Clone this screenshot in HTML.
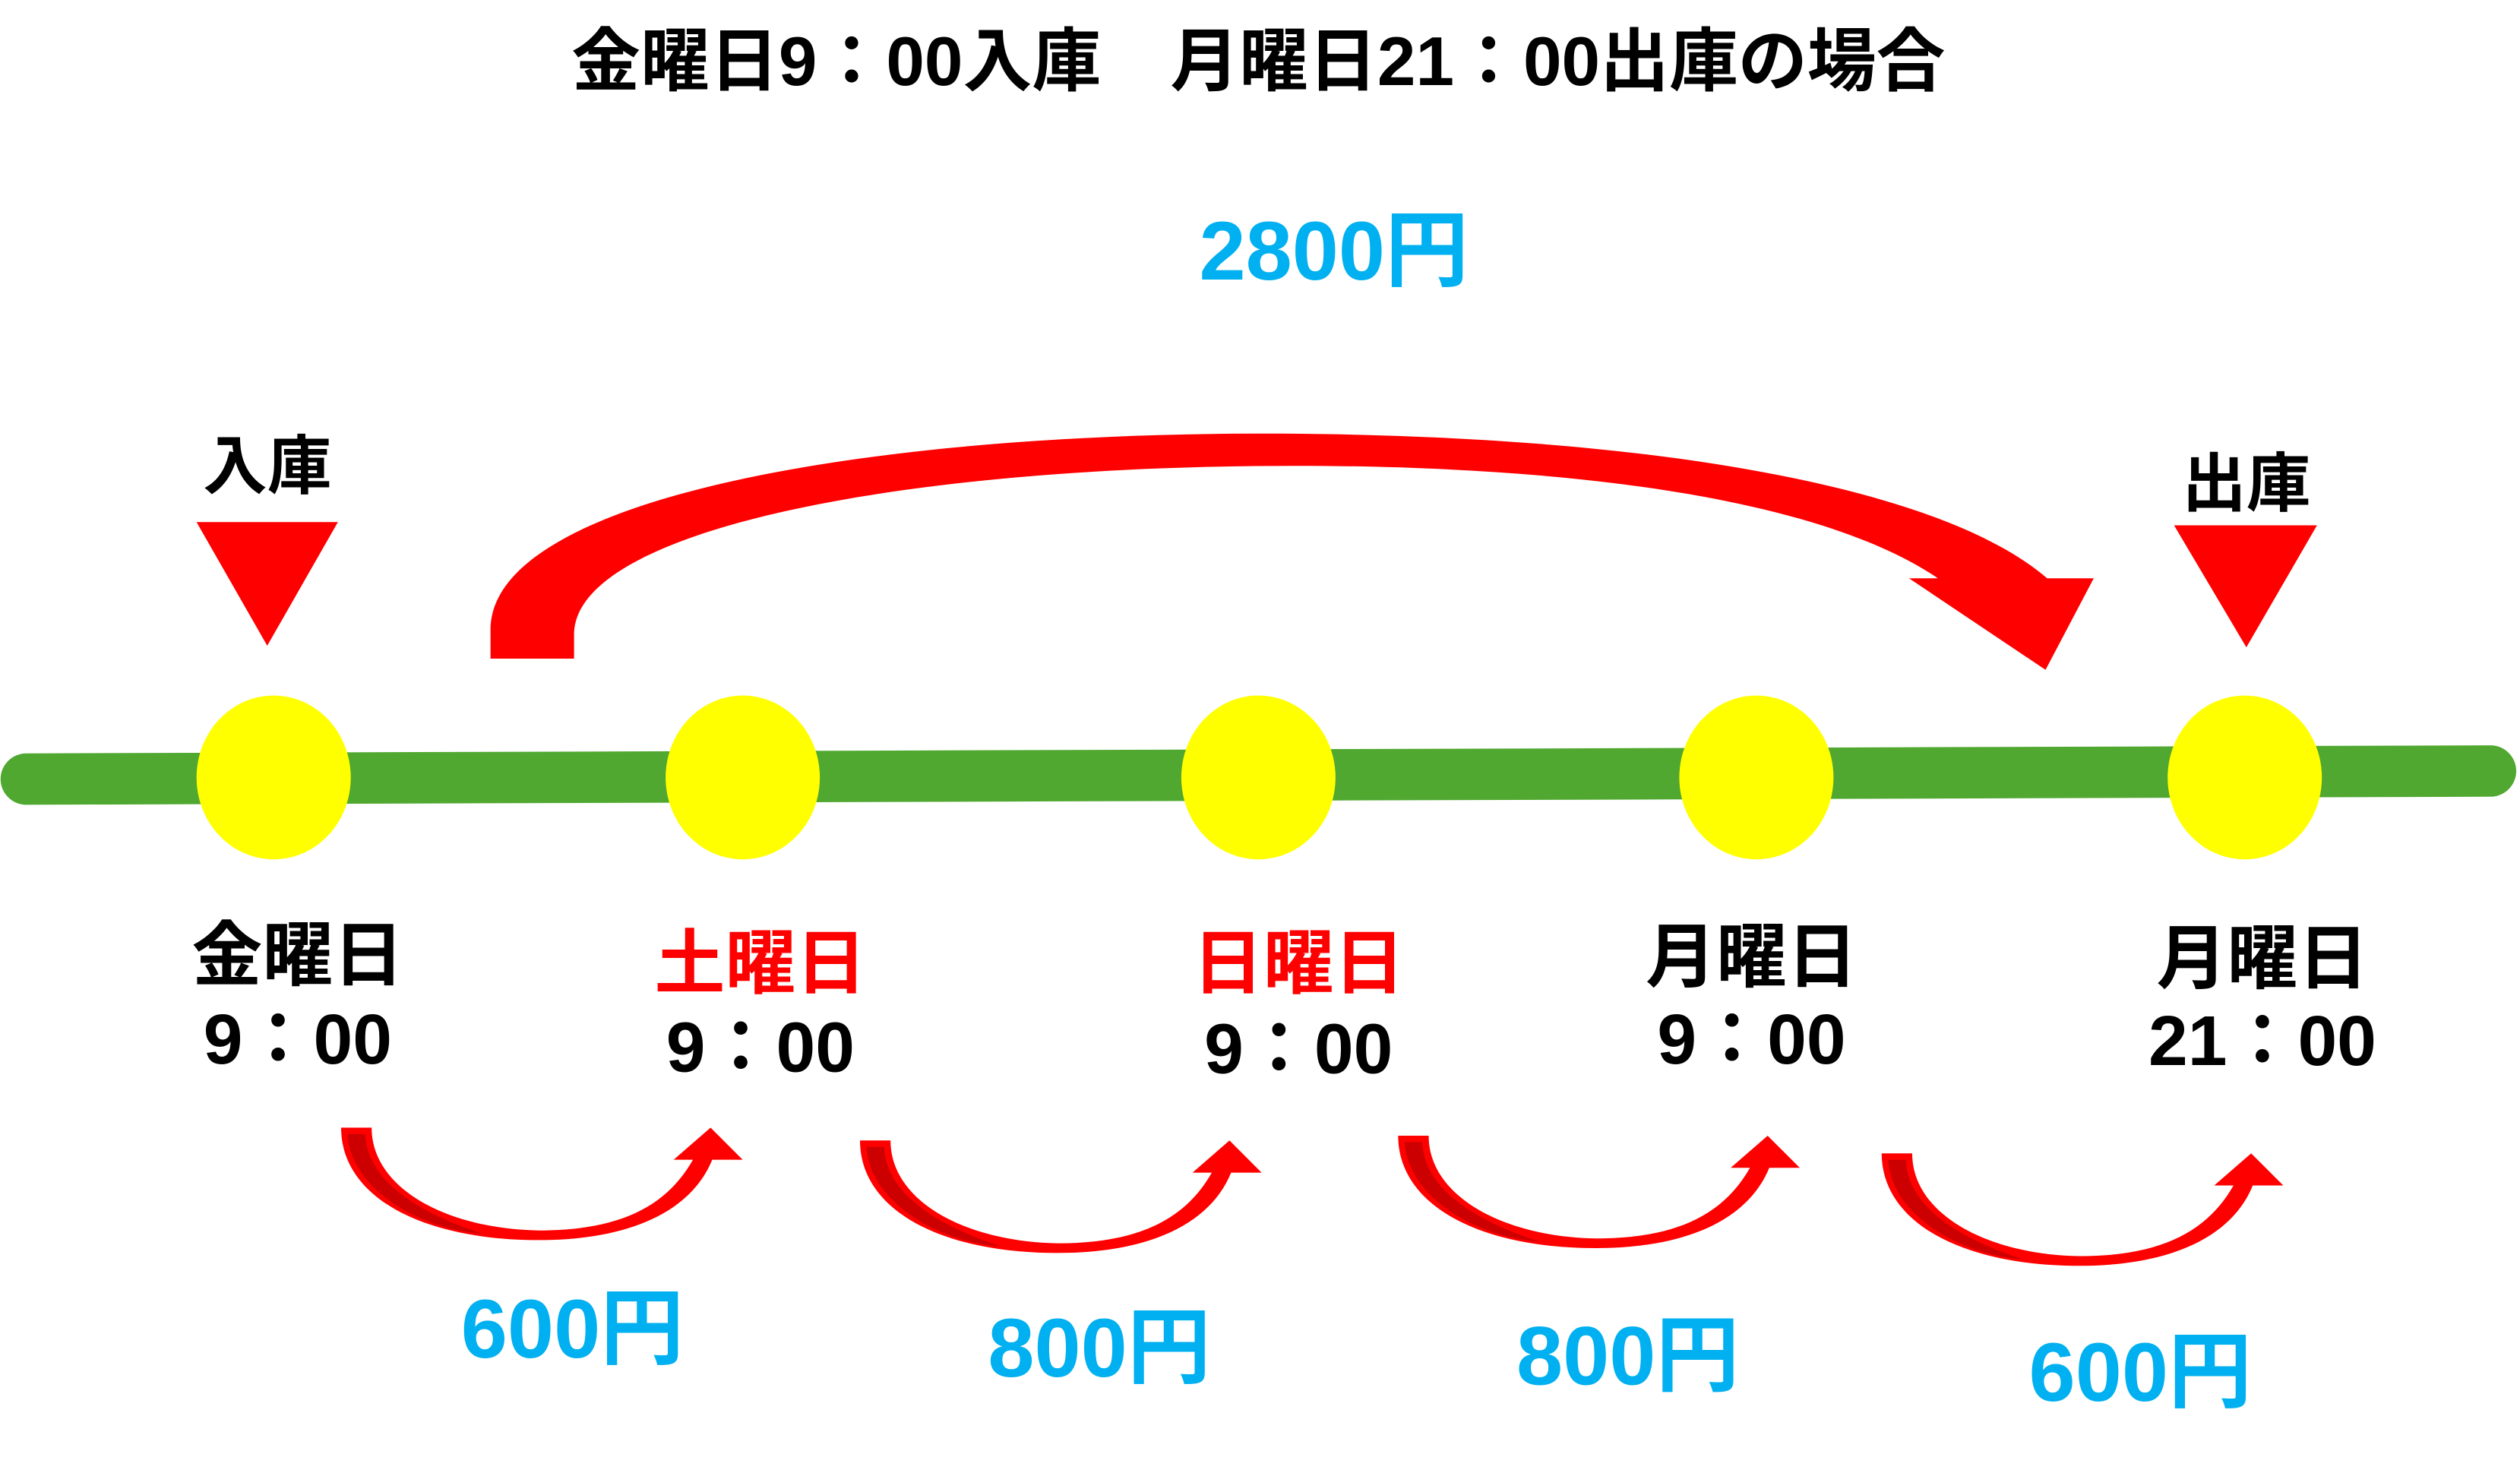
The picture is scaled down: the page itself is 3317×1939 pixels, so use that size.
<!DOCTYPE html>
<html><head><meta charset="utf-8"><style>html,body{margin:0;padding:0;background:#fff}svg{display:block}</style></head>
<body>
<svg xmlns="http://www.w3.org/2000/svg" width="3317" height="1939" viewBox="0 0 1568 917">
<defs>
<g id="sa">
<path d="M212,702 C212,745 262,772 335,772 C392,772 430,754 443,722 L462,722 L442,702 L419,722 L431,722 C414,752 384,766 335,766 C278,765 231,740 231,702 Z" fill="#FF0000"/>
<path d="M216,706 C218,740 260,765 300,768 C260,755 228,735 227,706 Z" fill="#CC0000"/>
</g>
</defs>
<g font-family="Liberation Sans, Noto Sans CJK JP, sans-serif" font-weight="bold" text-anchor="middle">
<text x="783" y="53" font-size="43" fill="#000">金曜日9：00入庫　月曜日21：00出庫の場合</text>
<text x="830" y="174" font-size="52" fill="#00B0F0">2800円</text>
<text x="166" y="304" font-size="40" fill="#000">入庫</text>
<text x="1398" y="315" font-size="40" fill="#000">出庫</text>
</g>
<path d="M305,410 L305,392 C305,310 540,268 805,270 C1040,272 1210,305 1274,360 L1303,360 L1273,417 L1188,360 L1206,360 C1140,315 1000,290 805,290 C560,290 357,330 357,395 L357,410 Z" fill="#FF0000"/>
<line x1="16" y1="485" x2="1550" y2="480" stroke="#50A830" stroke-width="32" stroke-linecap="round"/>
<polygon points="122,325 210,325 166,402" fill="#FF0000"/>
<polygon points="1353,327 1442,327 1398,403" fill="#FF0000"/>
<g fill="#FFFF00">
<ellipse cx="170" cy="484" rx="48" ry="51"/>
<ellipse cx="462" cy="484" rx="48" ry="51"/>
<ellipse cx="783" cy="484" rx="48" ry="51"/>
<ellipse cx="1093" cy="484" rx="48" ry="51"/>
<ellipse cx="1397" cy="484" rx="48" ry="51"/>
</g>
<g font-family="Liberation Sans, Noto Sans CJK JP, sans-serif" font-weight="bold" text-anchor="middle" font-size="44">
<text x="185" y="610" fill="#000">金曜日</text>
<text x="185" y="662" fill="#000">9：00</text>
<text x="473" y="615" fill="#FF0000">土曜日</text>
<text x="473" y="667" fill="#000">9：00</text>
<text x="808" y="615" fill="#FF0000">日曜日</text>
<text x="808" y="668" fill="#000">9：00</text>
<text x="1090" y="611" fill="#000">月曜日</text>
<text x="1090" y="662" fill="#000">9：00</text>
<text x="1408" y="612" fill="#000">月曜日</text>
<text x="1408" y="663" fill="#000">21：00</text>
</g>
<use href="#sa"/>
<use href="#sa" transform="translate(323,8)"/>
<use href="#sa" transform="translate(658,5)"/>
<use href="#sa" transform="translate(959,16)"/>
<g font-family="Liberation Sans, Noto Sans CJK JP, sans-serif" font-weight="bold" text-anchor="middle" font-size="52" fill="#00B0F0">
<text x="356" y="845">600円</text>
<text x="684" y="857">800円</text>
<text x="1013" y="862">800円</text>
<text x="1332" y="872">600円</text>
</g>
</svg>
</body></html>
